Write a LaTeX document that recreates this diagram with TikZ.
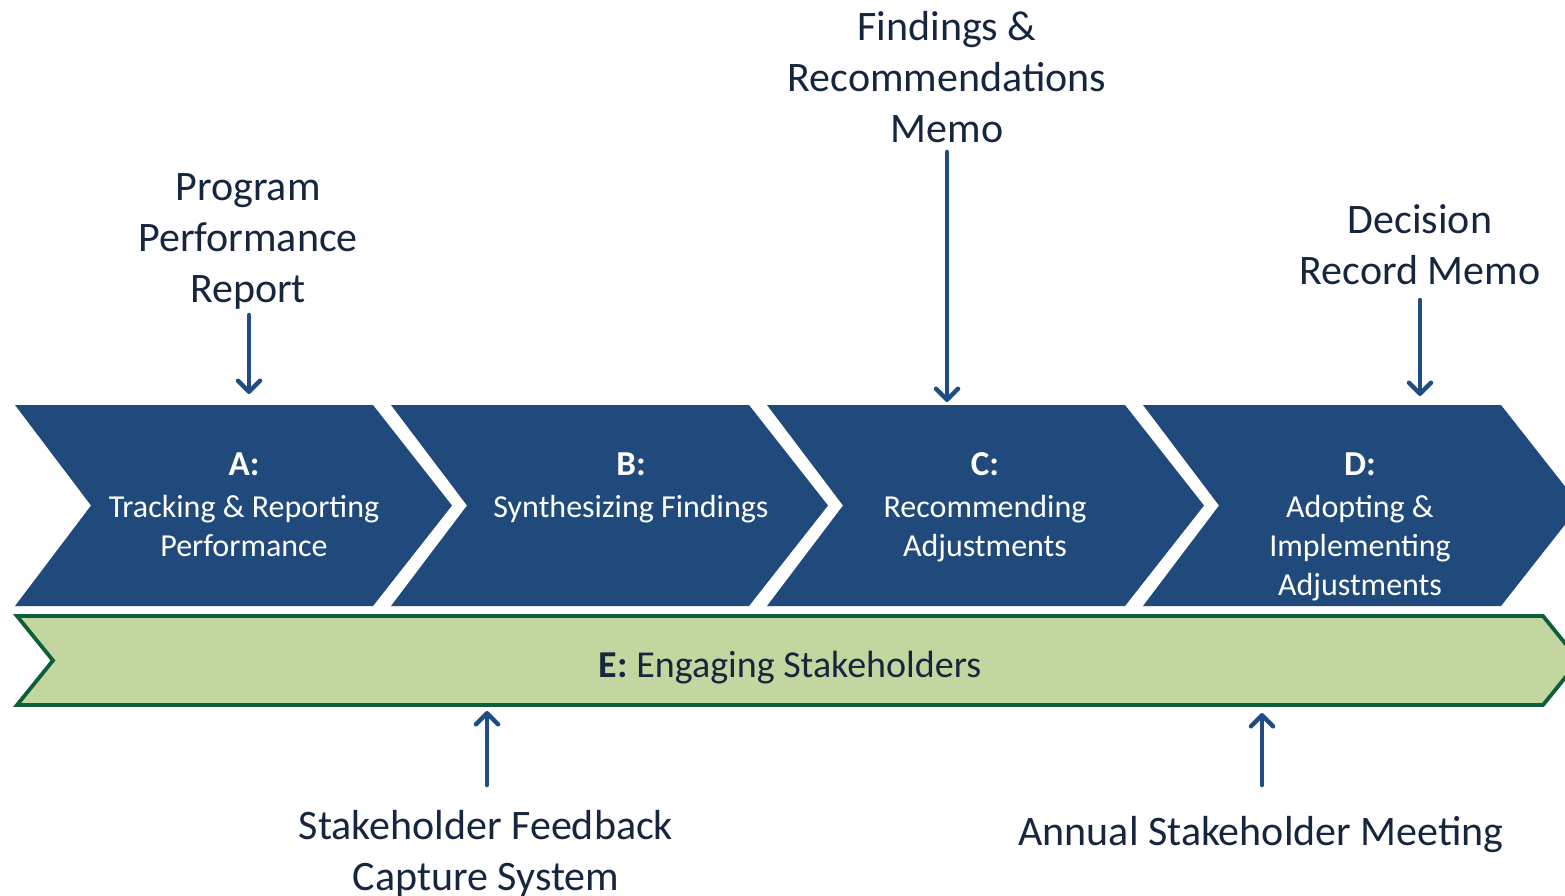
\documentclass[tikz,border=0pt]{standalone}
\usepackage{fontspec}
\setmainfont{Carlito}
\usetikzlibrary{arrows.meta}
\definecolor{chevblue}{HTML}{214A7C}
\definecolor{arrblue}{HTML}{1F4C84}
\definecolor{txtdark}{HTML}{16263F}
\definecolor{greenfill}{HTML}{C4D69F}
\definecolor{greenline}{HTML}{0C6039}
\tikzset{
  bigtxt/.style={font=\fontsize{42}{51}\selectfont, text=txtdark, align=center, inner sep=0pt},
  chevtxt/.style={font=\fontsize{32}{39}\selectfont, text=white, align=center, inner sep=0pt},
  chevtitle/.style={font=\fontsize{35}{42}\selectfont\bfseries, text=white, inner sep=0pt},
  etxt/.style={font=\fontsize{38}{46}\selectfont, text=txtdark, inner sep=0pt},
  arr/.style={draw=arrblue, line width=4.5pt, line cap=round, -{Straight Barb[length=11pt,width=22pt,round]}},
  chevfill/.style={fill=chevblue},
  band/.style={fill=greenfill, draw=greenline, line width=3.8pt, line join=miter},
}
\newcommand{\chevron}[1]{%
  \path[chevfill] (#1,405) -- ++(358,0) -- ++(79,100.5) -- ++(-79,100.5) -- ++(-358,0) -- ++(76,-100.5) -- cycle;}
\begin{document}
\begin{tikzpicture}[x=1pt,y=-1pt]
\useasboundingbox (0,0) rectangle (1565,895);
\clip (0,0) rectangle (1565,895);
% chevrons
\chevron{15}
\chevron{391}
\chevron{767}
\chevron{1143}
% green band
\path[band] (17,616) -- (1543,616) -- (1579,660.5) -- (1543,705) -- (17,705) -- (53,660.5) -- cycle;
% chevron texts
\node[chevtitle] (tA) at (244,464) {A:};
\node[chevtxt, anchor=north] (bA) at (244,495) {Tracking \& Reporting\\Performance};
\node[chevtitle] (tB) at (631,464) {B:};
\node[chevtxt, anchor=north] (bB) at (631,495) {Synthesizing Findings};
\node[chevtitle] (tC) at (985,464) {C:};
\node[chevtxt, anchor=north] (bC) at (985,495) {Recommending\\Adjustments};
\node[chevtitle] (tD) at (1360,464) {D:};
\node[chevtxt, anchor=north] (bD) at (1360,495) {Adopting \&\\Implementing\\Adjustments};
\node[etxt] (tE) at (790,668) {\textbf{E:} Engaging Stakeholders};
% outside labels
\node[bigtxt] (lA) at (248,241) {Program\\Performance\\Report};
\node[bigtxt] (lC) at (947,77) {Findings \&\\Recommendations\\Memo};
\node[bigtxt] (lD) at (1420,245) {Decision\\Record Memo};
\node[bigtxt] (lE1) at (486,854) {Stakeholder Feedback\\Capture System};
\node[bigtxt] (lE2) at (1261,835) {Annual Stakeholder Meeting};
% arrow end points
\coordinate (sA) at (249,315);
\coordinate (eA) at (249,394);
\coordinate (sC) at (947,152);
\coordinate (eC) at (947,402);
\coordinate (sD) at (1420,300);
\coordinate (eD) at (1420,396);
\coordinate (sE1) at (487,785);
\coordinate (eE1) at (487,711);
\coordinate (sE2) at (1262,785);
\coordinate (eE2) at (1262,713);
\draw[arr] (sA) -- (eA);
\draw[arr] (sC) -- (eC);
\draw[arr] (sD) -- (eD);
\draw[arr] (sE1) -- (eE1);
\draw[arr] (sE2) -- (eE2);
\end{tikzpicture}
\end{document}
